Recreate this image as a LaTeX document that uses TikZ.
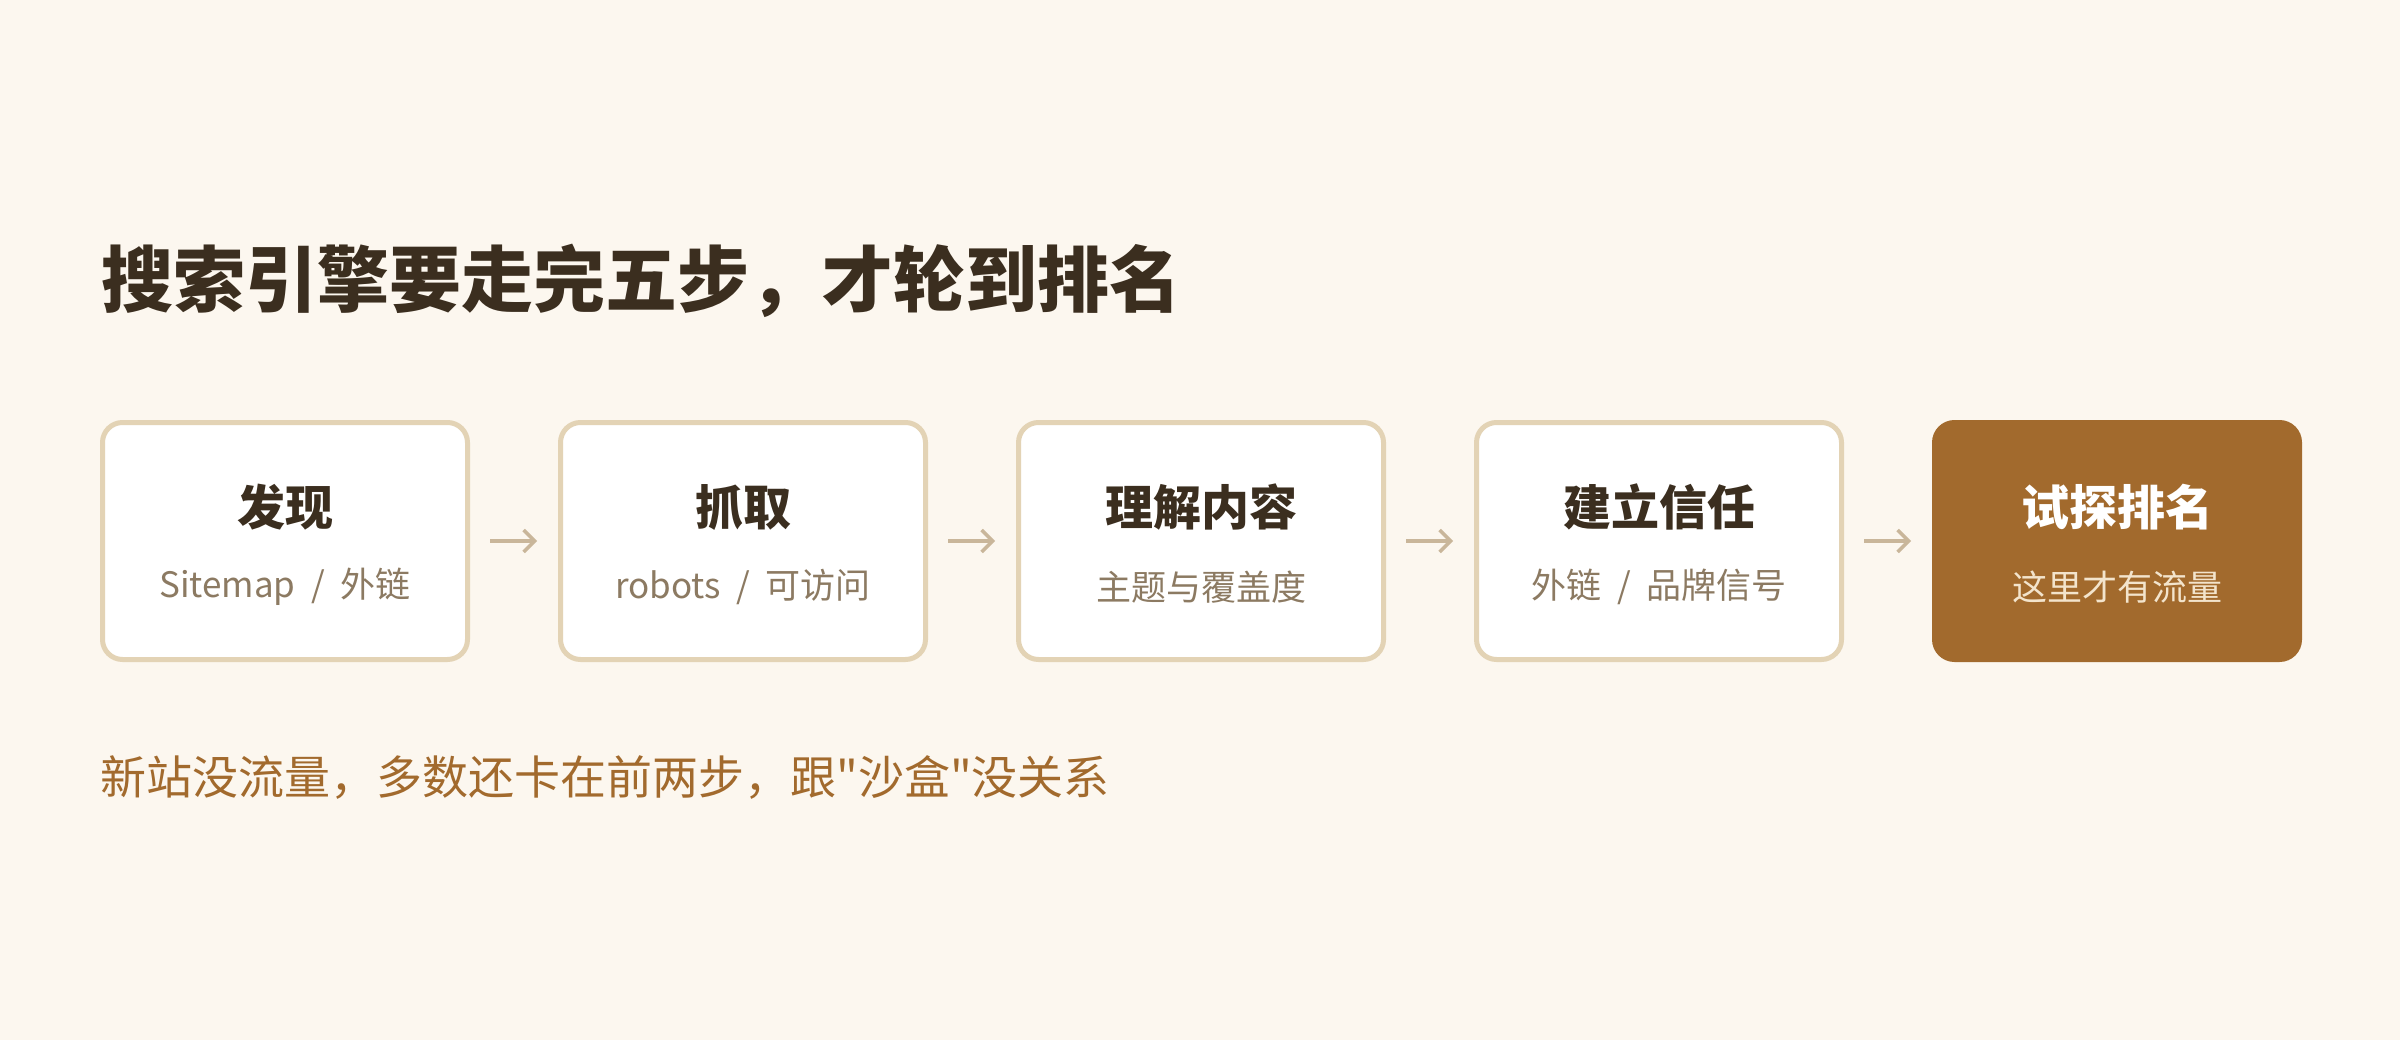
\documentclass[tikz,border=0pt]{standalone}
\usepackage{fontspec}
\setmainfont{Noto Sans CJK SC}
\newfontfamily\cjk{Noto Sans CJK SC}
\usetikzlibrary{arrows.meta}
\definecolor{bgc}{HTML}{FCF7EF}
\definecolor{titlec}{HTML}{3B2E1F}
\definecolor{subc}{HTML}{8C7A62}
\definecolor{borderc}{HTML}{E3D3B5}
\definecolor{arrowc}{HTML}{C9B69A}
\definecolor{accentc}{HTML}{A26A2D}
\definecolor{lightsub}{HTML}{F3E4CC}
\newcommand{\slashsep}{\hspace{0.45em}/\hspace{0.45em}}
\tikzset{
  stepbox/.style={draw=borderc, line width=5pt, fill=white, rounded corners=20pt,
    minimum width=365pt, minimum height=237pt, inner sep=0pt},
  lastbox/.style={stepbox, draw=accentc, fill=accentc},
  steptitle/.style={font=\cjk\fontsize{48}{56}\selectfont\bfseries, text=titlec, inner sep=0pt},
  stepsub/.style={font=\cjk\fontsize{35}{42}\selectfont, text=subc, inner sep=0pt},
  flowarrow/.style={draw=arrowc, line width=3.5pt, shorten <=20pt, shorten >=21pt,
    -{Straight Barb[length=11pt, width=22pt, line width=3.5pt]}},
}
\begin{document}
\begin{tikzpicture}[x=1pt, y=-1pt]
\fill[bgc] (0,0) rectangle (2400,1040);
\useasboundingbox (0,0) rectangle (2400,1040);

\node[anchor=west, inner sep=0pt, text=titlec, font=\cjk\fontsize{72}{86}\selectfont\bfseries] (title) at (101,281) {搜索引擎要走完五步，才轮到排名};

\node[stepbox] (b1) at (285,541) {};
\node[stepbox] (b2) at (743,541) {};
\node[stepbox] (b3) at (1201,541) {};
\node[stepbox] (b4) at (1659,541) {};
\node[lastbox] (b5) at (2117,541) {};

\node[steptitle] (t1) at (285,507) {发现};
\node[stepsub] (s1) at (285,587) {Sitemap\slashsep 外链};
\node[steptitle] (t2) at (743,507) {抓取};
\node[stepsub] (s2) at (743,587) {robots\slashsep 可访问};
\node[steptitle] (t3) at (1201,507) {理解内容};
\node[stepsub] (s3) at (1201,587) {主题与覆盖度};
\node[steptitle] (t4) at (1659,507) {建立信任};
\node[stepsub] (s4) at (1659,587) {外链\slashsep 品牌信号};
\node[steptitle, text=white] (t5) at (2117,507) {试探排名};
\node[stepsub, text=lightsub] (s5) at (2117,587) {这里才有流量};

\draw[flowarrow] (b1) -- (b2);
\draw[flowarrow] (b2) -- (b3);
\draw[flowarrow] (b3) -- (b4);
\draw[flowarrow] (b4) -- (b5);

\node[anchor=west, inner sep=0pt, text=accentc, font=\cjk\fontsize{46}{54}\selectfont] (note) at (100,777) {新站没流量，多数还卡在前两步，跟"沙盒"没关系};
\end{tikzpicture}
\end{document}
